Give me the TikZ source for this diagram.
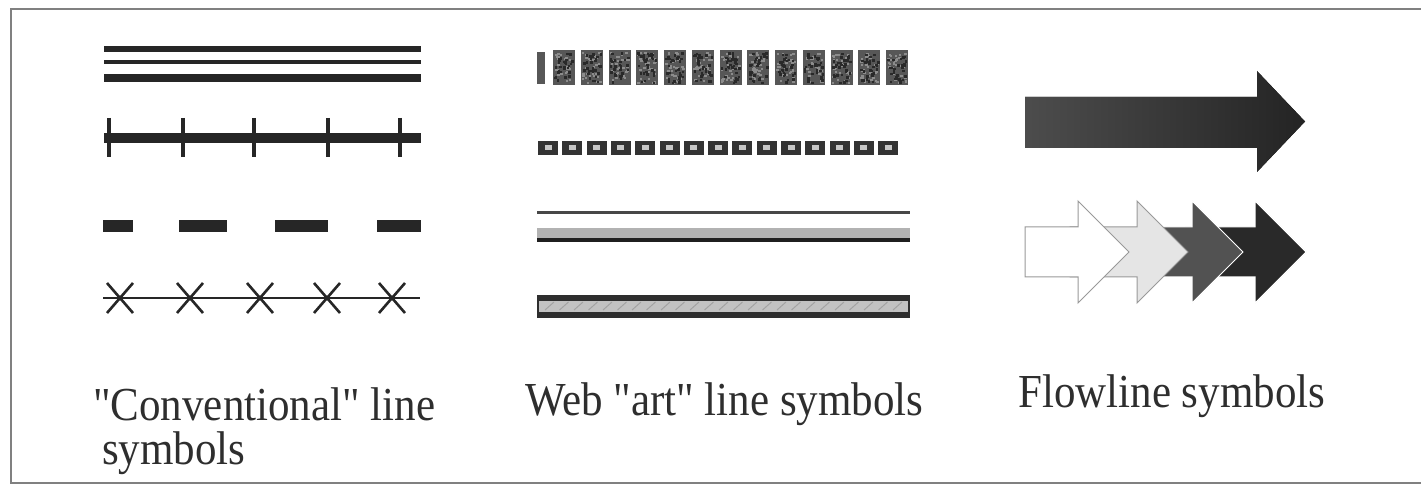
\documentclass[tikz,border=0pt]{standalone}
\usepackage{fontspec}
\setmainfont{Liberation Serif}
\newcommand{\tallword}[1]{\scalebox{1}[1.1]{#1}}
\begin{document}
\begin{tikzpicture}[x=1pt,y=-1pt,
  frame/.style={draw=black!50,line width=2.4pt},
  caption/.style={font=\fontsize{43}{43}\selectfont,text=black!82,inner sep=0pt,anchor=base west},
  solidline/.style={draw=black!85,line width=#1},
  tickmark/.style={draw=black!85,line width=3.5},
  crossmark/.style={draw=black!85,line width=2.6},
  flowarrow/.style={line width=1,line join=miter}]
\useasboundingbox (0,0) rectangle (1421,486);
\fill[white] (0,0) rectangle (1421,486);
% outer frame, open to the right
\draw[frame] (1425,9) -- (11,9) -- (11,483) -- (1425,483);

% ---------- conventional line symbols ----------
% triple line
\draw[solidline=6] (104,49) -- (421,49);
\draw[solidline=4] (104,62.5) -- (421,62.5);
\draw[solidline=8] (104,78) -- (421,78);
% railway line with ticks
\draw[solidline=10] (104,138.5) -- (421,138.5);
\foreach \tx in {109,183,254,328,400}
  \draw[tickmark] (\tx,118) -- (\tx,157);
% dashed line
\foreach \da/\db in {103/133,179/227,275/328,377/421}
  \fill[black!85] (\da,220.5) rectangle (\db,232);
% line with crosses
\draw[crossmark] (103,298) -- (420,298);
\foreach \cx in {120,190,260,327,392}{
  \draw[crossmark] (\cx-13,283) -- (\cx+13,313);
  \draw[crossmark] (\cx-13,313) -- (\cx+13,283);
}

% ---------- web art line symbols ----------
\pgfmathsetseed{11}
% speckled blocks
\fill[black!66] (537,52) rectangle (545,84);
\foreach \k in {0,...,12}{
  \pgfmathsetmacro{\bx}{553+27.75*\k}
  \fill[black!66] (\bx,50) rectangle ++(22,35);
  \foreach \j in {1,...,30}{
    \pgfmathsetmacro{\sx}{\bx+1+rnd*18}
    \pgfmathsetmacro{\sy}{52+rnd*30}
    \fill[black!45] (\sx,\sy) rectangle ++(2.5,2);
  }
  \foreach \j in {1,...,30}{
    \pgfmathsetmacro{\sx}{\bx+1+rnd*18}
    \pgfmathsetmacro{\sy}{52+rnd*30}
    \fill[black!84] (\sx,\sy) rectangle ++(2.5,2.5);
  }
}
% hollow squares
\foreach \k in {0,...,14}{
  \pgfmathsetmacro{\bx}{538+24.3*\k}
  \fill[black!80] (\bx,141) rectangle ++(20,14);
  \fill[black!22] (\bx+6.5,145) rectangle ++(7,5.5);
}
% thin line over a shaded band
\draw[draw=black!72,line width=3] (537,213) -- (910,213);
\fill[black!30] (537,228) rectangle (910,238);
\draw[draw=black!88,line width=4] (537,240) -- (910,240);
% cased line with light core
\fill[black!82] (537,295) rectangle (910,318);
\fill[black!24] (539,300.5) rectangle (908,312);
\foreach \k in {0,...,24}{
  \pgfmathsetmacro{\gx}{545+14.5*\k}
  \draw[black!36,line width=1] (\gx,310) -- (\gx+9,302);
}

% ---------- flowline symbols ----------
% single arrow with shaded body
\fill[left color=black!70,right color=black!86]
  (1025,97) -- (1257,97) -- (1257,71) -- (1305,121.5) -- (1257,172)
  -- (1257,148) -- (1025,148) -- cycle;
% overlapping arrows, back to front
\foreach \hb/\st/\fc/\dc in {1255/1185/black!84/white,
                            1192/1130/black!68/white,
                            1137/1070/black!10/black!40,
                            1078/1025/white/black!40}{
  \filldraw[flowarrow,fill=\fc,draw=\dc]
    (\st,227) -- (\hb,227) -- (\hb,201) -- (\hb+51,252) -- (\hb,303)
    -- (\hb,277) -- (\st,277) -- cycle;
}

% ---------- captions ----------
\node[caption] (convA) at (93,420) {\tallword{\textquotedbl Conventional\textquotedbl{} line}};
\node[caption] (convB) at (102,464) {\tallword{symbols}};
\node[caption] (webart) at (525,415) {\tallword{Web \textquotedbl art\textquotedbl{} line symbols}};
\node[caption] (flowline) at (1018,407) {\tallword{Flowline symbols}};
\end{tikzpicture}
\end{document}
